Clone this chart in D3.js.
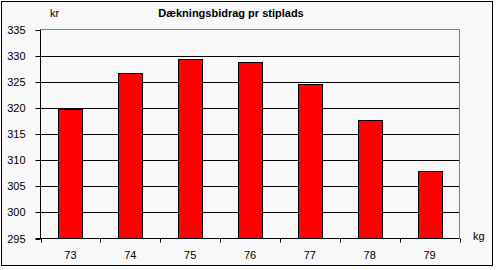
<!DOCTYPE html>
<html><head><meta charset="utf-8">
<script src="https://cdn.jsdelivr.net/npm/d3@7"></script>
<style>body{margin:0;background:#fff}svg{display:block}text{font-family:Arial,"Liberation Sans",sans-serif}</style>
</head><body>
<svg id="c" width="496" height="270"></svg>
<script>
const categories = ["73","74","75","76","77","78","79"];
const values = [319.8, 326.6, 329.4, 328.7, 324.5, 317.6, 307.9];
const yTicks = [295,300,305,310,315,320,325,330,335];
const title = "Dækningsbidrag pr stiplads";
const yUnit = "kr";
const xUnit = "kg";

const svg = d3.select("#c");
svg.append("rect").attr("x",1.5).attr("y",1.5).attr("width",491).attr("height",264)
  .attr("fill","#f8f8f8").attr("stroke","#000").attr("stroke-width",1);

const L=40.5, R=459.5, T=29.5, B=238.5;
const x = d3.scaleBand().domain(categories).range([L,R]).paddingInner(0.6).paddingOuter(0.3);
const y = d3.scaleLinear().domain([295,335]).range([B,T]);

// gridlines
svg.append("g").selectAll("line").data(yTicks.filter(t=>t>295 && t<335)).join("line")
  .attr("x1",L).attr("x2",R).attr("y1",d=>Math.round(y(d))+0.5).attr("y2",d=>Math.round(y(d))+0.5)
  .attr("stroke","#000");
// plot frame top/right gray
svg.append("path").attr("d",`M${L},${T}H${R}V${B}`).attr("fill","none").attr("stroke","#808080");

// bars
svg.append("g").selectAll("rect").data(values).join("rect")
  .attr("x",(d,i)=>Math.round(x(categories[i]))+0.5)
  .attr("width",Math.round(x.bandwidth()))
  .attr("y",d=>Math.round(y(d))+0.5)
  .attr("height",d=>B-Math.round(y(d))-0.5)
  .attr("fill","#ff0000").attr("stroke","#000");

// y axis
const ya = d3.axisLeft(y).tickValues(yTicks).tickSize(5).tickPadding(10).tickFormat(d3.format("d"));
const gy = svg.append("g").attr("transform",`translate(${L},0)`).call(ya);
gy.select(".domain").attr("stroke","#000").attr("d",`M0,${T}V${B}`);
gy.selectAll(".tick line").attr("stroke","#000");
gy.selectAll(".tick").attr("transform",d=>`translate(0,${Math.round(y(d))+0.5})`);
gy.selectAll("text").attr("font-size",11).attr("fill","#000").attr("font-family","Arial,'Liberation Sans',sans-serif");

// x axis
const xl = d3.scaleLinear().domain([0,categories.length]).range([L,R]);
const gx = svg.append("g");
gx.append("line").attr("x1",L-5).attr("x2",R).attr("y1",B).attr("y2",B).attr("stroke","#000");
gx.selectAll("line.t").data(d3.range(categories.length+1)).join("line").attr("class","t")
  .attr("x1",d=>Math.round(xl(d))+0.5).attr("x2",d=>Math.round(xl(d))+0.5)
  .attr("y1",B).attr("y2",B+4).attr("stroke","#000");
gx.selectAll("text").data(categories).join("text")
  .attr("x",d=>x(d)+x.bandwidth()/2).attr("y",259)
  .attr("text-anchor","middle").attr("font-size",11).text(d=>d);

svg.append("text").attr("x",231).attr("y",17).attr("text-anchor","middle")
  .attr("font-size",11).attr("font-weight","bold").text(title);
svg.append("text").attr("x",50).attr("y",17).attr("font-size",11).text(yUnit);
svg.append("text").attr("x",473).attr("y",240).attr("font-size",11).text(xUnit);
</script>
</body></html>
